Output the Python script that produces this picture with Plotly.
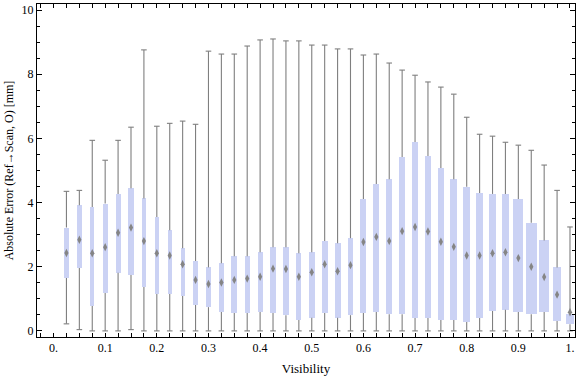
import plotly.graph_objects as go

visibility = [0.025, 0.05, 0.075, 0.1, 0.125, 0.15, 0.175, 0.2, 0.225, 0.25,
              0.275, 0.3, 0.325, 0.35, 0.375, 0.4, 0.425, 0.45, 0.475, 0.5,
              0.525, 0.55, 0.575, 0.6, 0.625, 0.65, 0.675, 0.7, 0.725, 0.75,
              0.775, 0.8, 0.825, 0.85, 0.875, 0.9, 0.925, 0.95, 0.975, 1.0]

whisker_low = [0.22, 0.04, 0.0, 0.0, 0.0, 0.04, 0.0, 0.0, 0.0, 0.0,
               0.0, 0.0, 0.0, 0.0, 0.0, 0.0, 0.0, 0.0, 0.0, 0.0,
               0.0, 0.0, 0.0, 0.0, 0.0, 0.0, 0.0, 0.0, 0.0, 0.0,
               0.0, 0.0, 0.0, 0.0, 0.0, 0.0, 0.0, 0.0, 0.0, 0.0]

q1 = [1.65, 1.96, 0.78, 1.18, 1.81, 1.74, 1.37, 1.15, 1.15, 1.09,
      0.81, 0.74, 0.59, 0.56, 0.56, 0.59, 0.56, 0.49, 0.34, 0.41,
      0.56, 0.41, 0.49, 0.56, 0.59, 0.52, 0.52, 0.40, 0.40, 0.34,
      0.34, 0.28, 0.40, 0.62, 0.66, 0.59, 0.52, 0.59, 0.31, 0.21]

median = [2.43, 2.84, 2.42, 2.61, 3.06, 3.22, 2.80, 2.42, 2.35, 2.08,
          1.59, 1.46, 1.51, 1.59, 1.63, 1.69, 1.94, 1.93, 1.69, 1.83,
          2.08, 1.86, 2.05, 2.77, 2.93, 2.80, 3.11, 3.24, 3.10, 2.78,
          2.62, 2.35, 2.35, 2.42, 2.45, 2.27, 2.00, 1.68, 1.13, 0.58]

q3 = [3.22, 3.92, 3.86, 3.97, 4.27, 4.45, 4.13, 3.55, 3.14, 2.58,
      2.18, 1.98, 2.11, 2.33, 2.33, 2.45, 2.61, 2.61, 2.42, 2.45,
      2.80, 2.73, 2.89, 4.11, 4.58, 4.73, 5.42, 5.89, 5.45, 5.08,
      4.73, 4.49, 4.30, 4.27, 4.27, 4.11, 3.37, 2.82, 1.98, 0.52]

whisker_high = [4.35, 4.38, 5.94, 5.32, 5.94, 6.35, 8.76, 6.38, 6.47, 6.54,
                6.44, 8.72, 8.63, 8.63, 8.88, 9.07, 9.10, 9.04, 9.04, 8.91,
                8.91, 8.79, 8.79, 8.60, 8.63, 8.35, 8.13, 7.97, 7.76, 7.60,
                7.38, 6.66, 6.13, 6.07, 5.88, 5.79, 5.63, 5.17, 4.38, 3.24]

# box widths (in visibility units)
box_widths = [0.0085, 0.0091, 0.0075, 0.0097, 0.0097, 0.0097, 0.0085, 0.0080, 0.0080, 0.0080,
              0.0085, 0.0097, 0.0110, 0.0110, 0.0100, 0.0100, 0.0100, 0.0100, 0.0100, 0.0114,
              0.0114, 0.0114, 0.0114, 0.0114, 0.0114, 0.0114, 0.0114, 0.0114, 0.0114, 0.0114,
              0.0132, 0.0132, 0.0132, 0.0136, 0.0150, 0.0190, 0.0205, 0.0190, 0.0155, 0.0155]

x_tickvals = [0.0, 0.1, 0.2, 0.3, 0.4, 0.5, 0.6, 0.7, 0.8, 0.9, 1.0]
x_ticktext = ["0.", "0.1", "0.2", "0.3", "0.4", "0.5", "0.6", "0.7", "0.8", "0.9", "1."]
y_tickvals = [0, 2, 4, 6, 8, 10]

BOX_COLOR = "#cbd2f4"
WHISKER_COLOR = "#7f7f7f"
FONT = "Liberation Serif"

# whisker segments (outside of the boxes)
wx, wy = [], []
for x, lo, a, b, hi in zip(visibility, whisker_low, q1, q3, whisker_high):
    wx += [x, x, None, x, x, None]
    wy += [lo, a, None, b, hi, None]

fig = go.Figure()

fig.add_trace(go.Bar(
    x=visibility,
    y=[b - a for a, b in zip(q1, q3)],
    base=q1,
    width=box_widths,
    marker=dict(color=BOX_COLOR, line=dict(width=0)),
    hoverinfo="skip",
    showlegend=False,
))

fig.add_trace(go.Scatter(
    x=wx, y=wy, mode="lines",
    line=dict(color=WHISKER_COLOR, width=1.1),
    hoverinfo="skip", showlegend=False,
))

fig.add_trace(go.Scatter(
    x=visibility + visibility,
    y=whisker_low + whisker_high,
    mode="markers",
    marker=dict(symbol="line-ew", size=4, line=dict(color=WHISKER_COLOR, width=1.1)),
    hoverinfo="skip", showlegend=False,
))

fig.add_trace(go.Scatter(
    x=visibility, y=median, mode="markers",
    marker=dict(symbol="diamond-tall", size=6, color="#858585", line=dict(width=0)),
    showlegend=False,
))

axis_common = dict(
    showline=True, linecolor="black", linewidth=1, mirror="allticks",
    ticks="inside", tickcolor="black", showgrid=False, zeroline=False,
    automargin=False,
    tickfont=dict(family=FONT, size=12, color="black"),
)

fig.update_layout(
    width=576, height=377,
    margin=dict(l=37, r=1, t=4, b=40),
    paper_bgcolor="white", plot_bgcolor="white",
    bargap=0,
    xaxis=dict(
        range=[-0.032, 1.0097],
        tickmode="array", tickvals=x_tickvals, ticktext=x_ticktext,
        ticklen=4,
        minor=dict(tickmode="linear", tick0=0, dtick=0.025, ticklen=4, ticks="inside", tickcolor="black"),
        title=dict(text="Visibility", font=dict(family=FONT, size=13, color="black"), standoff=9),
        **axis_common,
    ),
    yaxis=dict(
        range=[-0.19, 10.19],
        tickmode="array", tickvals=y_tickvals,
        ticklen=5,
        minor=dict(tickmode="linear", tick0=0, dtick=0.5, ticklen=3, ticks="inside", tickcolor="black"),
        title=dict(text="Absolute Error (Ref\u2192Scan, O) [mm]", font=dict(family=FONT, size=12, color="black"), standoff=5),
        **axis_common,
    ),
)

fig.write_html(
    "out.html",
    config={"displayModeBar": False},
    post_script="document.body.style.margin='0';document.body.style.padding='0';",
)
